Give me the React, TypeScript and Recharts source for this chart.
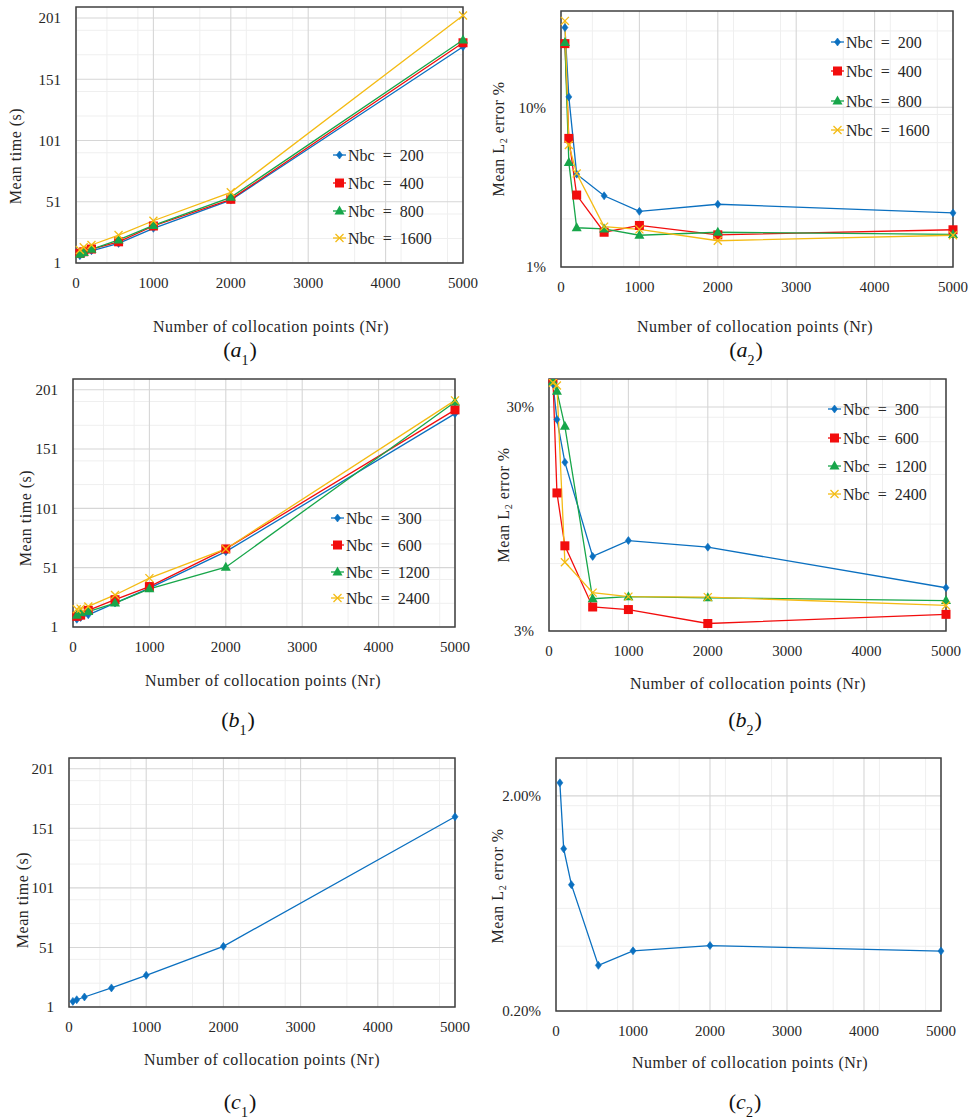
import React from 'react';
import { LineChart, Line, XAxis, YAxis, CartesianGrid, ReferenceArea } from 'recharts';

const FONT = '"Liberation Serif", "DejaVu Serif", serif';
const INK = '#262626';

const BLUE = '#0b70c0';
const RED = '#f20d0d';
const GREEN = '#17a64a';
const YELLOW = '#f4bb14';

// collocation points (Nr)
const nr = [50, 100, 200, 550, 1000, 2000, 5000];
const xTicks = [0, 1000, 2000, 3000, 4000, 5000];
const xMinor = [200, 400, 600, 800, 1200, 1400, 1600, 1800, 2200, 2400, 2600, 2800, 3200, 3400, 3600, 3800, 4200, 4400, 4600, 4800];

// linear time axes
const timeTicks = [1, 51, 101, 151, 201];
const timeMinor = [11, 21, 31, 41, 61, 71, 81, 91, 111, 121, 131, 141, 161, 171, 181, 191];

// (a1) mean time, s
const timeA200 = [7, 8.5, 11, 17, 29.3, 52.4, 177.6];
const timeA400 = [8.9, 10.2, 12.4, 18.3, 31.2, 53, 180.8];
const timeA800 = [8.1, 9.5, 12.2, 19.8, 31.7, 54.6, 183];
const timeA1600 = [11.6, 13.8, 15.7, 23.8, 35.5, 58.7, 203];

// (a2) mean L2 error, %
const errA200 = [31.5, 11.6, 3.81, 2.79, 2.23, 2.47, 2.18];
const errA400 = [25, 6.38, 2.82, 1.65, 1.82, 1.59, 1.71];
const errA800 = [25.4, 4.5, 1.76, 1.73, 1.58, 1.65, 1.6];
const errA1600 = [34.7, 5.8, 3.85, 1.79, 1.72, 1.46, 1.58];
const errATicks = [1, 10];
const errAMinor = [2, 3, 4, 5, 6, 7, 8, 9, 20, 30];

// (b1) mean time, s
const timeB300 = [7.5, 9, 11.3, 21.2, 33.8, 64.5, 180.8];
const timeB600 = [10, 11, 15, 24, 35.1, 66.8, 184];
const timeB1200 = [11, 13, 14, 21.2, 33.2, 51.4, 190.6];
const timeB2400 = [16, 16.5, 18.3, 28, 42.2, 66.8, 192];

// (b2) mean L2 error, %
const errB300 = [38, 26.4, 17, 6.46, 7.6, 7.1, 4.68];
const errB600 = [40, 12.4, 7.2, 3.84, 3.74, 3.24, 3.56];
const errB1200 = [39, 35.3, 24.6, 4.18, 4.27, 4.22, 4.1];
const errB2400 = [38.5, 37.4, 6.08, 4.45, 4.27, 4.25, 3.9];
const errBTicks = [3, 30];
const errBMinor = [6, 9, 12, 15, 18, 21, 24, 27];

// (c1) / (c2)
const timeC = [5.7, 7.1, 9.4, 17, 27.6, 51.9, 160.7];
const errC = [2.3, 1.135, 0.773, 0.326, 0.381, 0.403, 0.38];
const errCTicks = [0.2, 2];
const errCMinor = [0.4, 0.6, 0.8, 1.0, 1.2, 1.4, 1.6, 1.8];

type Kind = 'diamond' | 'square' | 'triangle' | 'cross';

interface Series {
  key: string;
  name: string;
  color: string;
  kind: Kind;
  values: number[];
}

const Mark = ({ kind, cx, cy, color }: { kind: Kind; cx: number; cy: number; color: string }) => {
  if (cx == null || cy == null || isNaN(cx) || isNaN(cy)) return <g />;
  if (kind === 'diamond')
    return <path d={`M${cx},${cy - 4} L${cx + 3},${cy} L${cx},${cy + 4} L${cx - 3},${cy} Z`} fill={color} stroke={color} strokeWidth={0.6} />;
  if (kind === 'square') return <rect x={cx - 4.5} y={cy - 4.5} width={9} height={9} fill={color} />;
  if (kind === 'triangle')
    return <path d={`M${cx},${cy - 5.5} L${cx + 5},${cy + 3.5} L${cx - 5},${cy + 3.5} Z`} fill={color} />;
  return (
    <g stroke={color} strokeWidth={1.3}>
      <line x1={cx - 4} y1={cy - 4} x2={cx + 4} y2={cy + 4} />
      <line x1={cx - 4} y1={cy + 4} x2={cx + 4} y2={cy - 4} />
    </g>
  );
};

interface PanelProps {
  frame: [number, number, number, number];
  log: boolean;
  domain: [number, number];
  ticks: number[];
  minor: number[];
  fmt: (v: number) => string;
  series: Series[];
}

const PAD_L = 75;
const PAD_R = 25;
const PAD_T = 10;
const PAD_B = 45;

const tickStyle = { fontSize: 15, fill: INK, fontFamily: FONT };

const Panel = ({ frame, log, domain, ticks, minor, fmt, series }: PanelProps) => {
  const [l, t, r, b] = frame;
  const w = r - l + PAD_L + PAD_R;
  const h = b - t + PAD_T + PAD_B;
  const rows = nr.map((x, i) => {
    const row: Record<string, number> = { x };
    series.forEach((s) => (row[s.key] = s.values[i]));
    return row;
  });
  return (
    <div style={{ position: 'absolute', left: l - PAD_L, top: t - PAD_T }}>
      <LineChart width={w} height={h} data={rows} margin={{ top: PAD_T, right: PAD_R, bottom: PAD_B - 30, left: PAD_L - 60 }}>
        <CartesianGrid stroke="#efefef" strokeWidth={1} horizontalValues={minor} verticalValues={xMinor} />
        <CartesianGrid stroke="#d6d6d6" strokeWidth={1.1} horizontalValues={ticks} verticalValues={xTicks} />
        <XAxis
          type="number"
          dataKey="x"
          domain={[0, 5000]}
          ticks={xTicks}
          height={30}
          axisLine={false}
          tickLine={false}
          tickSize={6}
          tickMargin={8}
          tick={tickStyle}
        />
        <YAxis
          type="number"
          scale={log ? 'log' : 'linear'}
          domain={domain}
          allowDataOverflow
          ticks={ticks}
          width={60}
          axisLine={false}
          tickLine={false}
          tickSize={6}
          tickMargin={9}
          tickFormatter={fmt}
          tick={tickStyle}
        />
        <ReferenceArea x1={0} x2={5000} y1={domain[0]} y2={domain[1]} fill="none" stroke="#404040" strokeWidth={1.5} ifOverflow="visible" />
        {series.map((s) => (
          <Line
            key={s.key}
            dataKey={s.key}
            name={s.name}
            type="linear"
            stroke={s.color}
            strokeWidth={1.3}
            isAnimationActive={false}
            dot={(p: any) => <Mark key={`${s.key}-${p.index}`} kind={s.kind} cx={p.cx} cy={p.cy} color={s.color} />}
            activeDot={false}
          />
        ))}
      </LineChart>
    </div>
  );
};

const mk = (key: string, n: string, color: string, kind: Kind, values: number[]): Series => ({ key, name: `Nbc\u2002=\u2002${n}`, color, kind, values });

const seriesA1 = [
  mk('s200', '200', BLUE, 'diamond', timeA200),
  mk('s400', '400', RED, 'square', timeA400),
  mk('s800', '800', GREEN, 'triangle', timeA800),
  mk('s1600', '1600', YELLOW, 'cross', timeA1600),
];
const seriesA2 = [
  mk('s200', '200', BLUE, 'diamond', errA200),
  mk('s400', '400', RED, 'square', errA400),
  mk('s800', '800', GREEN, 'triangle', errA800),
  mk('s1600', '1600', YELLOW, 'cross', errA1600),
];
const seriesB1 = [
  mk('s300', '300', BLUE, 'diamond', timeB300),
  mk('s600', '600', RED, 'square', timeB600),
  mk('s1200', '1200', GREEN, 'triangle', timeB1200),
  mk('s2400', '2400', YELLOW, 'cross', timeB2400),
];
const seriesB2 = [
  mk('s300', '300', BLUE, 'diamond', errB300),
  mk('s600', '600', RED, 'square', errB600),
  mk('s1200', '1200', GREEN, 'triangle', errB1200),
  mk('s2400', '2400', YELLOW, 'cross', errB2400),
];
const seriesC1 = [mk('c', '', BLUE, 'diamond', timeC)];
const seriesC2 = [mk('c', '', BLUE, 'diamond', errC)];

const LegendBox = ({ x, ys, series }: { x: number; ys: number[]; series: Series[] }) => (
  <g>
    {series.map((s, i) => (
      <g key={s.key}>
        <line x1={x} y1={ys[i]} x2={x + 13} y2={ys[i]} stroke={s.color} strokeWidth={1.3} />
        <Mark kind={s.kind} cx={x + 6.5} cy={ys[i]} color={s.color} />
        <text x={x + 15} y={ys[i]} dominantBaseline="central" fontSize={16} fill={INK}>
          {s.name}
        </text>
      </g>
    ))}
  </g>
);

const XLabel = ({ x, y }: { x: number; y: number }) => (
  <text x={x} y={y} textAnchor="middle" dominantBaseline="central" fontSize={16} letterSpacing={0.5} fill={INK}>
    Number of collocation points (Nr)
  </text>
);

const TimeLabel = ({ x, y }: { x: number; y: number }) => (
  <text transform={`translate(${x},${y}) rotate(-90)`} textAnchor="middle" dominantBaseline="central" fontSize={16} letterSpacing={0.5} fill={INK}>
    Mean time (s)
  </text>
);

const ErrLabel = ({ x, y }: { x: number; y: number }) => (
  <text transform={`translate(${x},${y}) rotate(-90)`} textAnchor="middle" dominantBaseline="central" fontSize={16} letterSpacing={0.5} fill={INK}>
    Mean L<tspan baselineShift="sub" fontSize={10}>2</tspan>
    <tspan> error %</tspan>
  </text>
);

const Caption = ({ x, y, l, n }: { x: number; y: number; l: string; n: string }) => (
  <text x={x} y={y} textAnchor="middle" fontSize={22} fill="#111">
    (<tspan fontStyle="italic">{l}</tspan>
    <tspan baselineShift="sub" fontSize={14}>{n}</tspan>
    <tspan dx={1}>)</tspan>
  </text>
);

const pct = (v: number) => `${v}%`;
const pct2 = (v: number) => `${v.toFixed(2)}%`;

export default function App() {
  return (
    <div style={{ position: 'absolute', left: 0, top: 0, width: 976, height: 1119, background: '#fff', fontFamily: FONT, overflow: 'hidden' }}>
      <Panel frame={[76, 7, 463, 263]} log={false} domain={[1, 210]} ticks={timeTicks} minor={timeMinor} fmt={(v) => `${v}`} series={seriesA1} />
      <Panel frame={[561, 11, 953, 267]} log domain={[1, 40]} ticks={errATicks} minor={errAMinor} fmt={pct} series={seriesA2} />
      <Panel frame={[73, 379, 455, 627]} log={false} domain={[1, 210]} ticks={timeTicks} minor={timeMinor} fmt={(v) => `${v}`} series={seriesB1} />
      <Panel frame={[549, 379, 946, 631]} log domain={[3, 40]} ticks={errBTicks} minor={errBMinor} fmt={pct} series={seriesB2} />
      <Panel frame={[69, 758, 455, 1007]} log={false} domain={[1, 210]} ticks={timeTicks} minor={timeMinor} fmt={(v) => `${v}`} series={seriesC1} />
      <Panel frame={[556, 758, 941, 1011]} log domain={[0.2, 3]} ticks={errCTicks} minor={errCMinor} fmt={pct2} series={seriesC2} />

      <svg width={976} height={1119} style={{ position: 'absolute', left: 0, top: 0, pointerEvents: 'none', fontFamily: FONT }}>
        <LegendBox x={333} ys={[155, 183, 211, 238]} series={seriesA1} />
        <LegendBox x={831} ys={[42, 71, 101, 130]} series={seriesA2} />
        <LegendBox x={331} ys={[518, 545, 572, 598]} series={seriesB1} />
        <LegendBox x={828} ys={[409, 438, 466, 494]} series={seriesB2} />

        <TimeLabel x={15} y={156} />
        <TimeLabel x={25} y={518} />
        <TimeLabel x={22} y={900} />
        <ErrLabel x={498} y={139} />
        <ErrLabel x={503} y={505} />
        <ErrLabel x={497} y={886} />

        <XLabel x={271} y={326} />
        <XLabel x={755} y={326} />
        <XLabel x={263} y={680} />
        <XLabel x={748} y={683} />
        <XLabel x={262} y={1059} />
        <XLabel x={750} y={1062} />

        <Caption x={240} y={357} l="a" n="1" />
        <Caption x={746} y={357} l="a" n="2" />
        <Caption x={238} y={727} l="b" n="1" />
        <Caption x={745} y={727} l="b" n="2" />
        <Caption x={240} y={1109} l="c" n="1" />
        <Caption x={745} y={1109} l="c" n="2" />
      </svg>
    </div>
  );
}
